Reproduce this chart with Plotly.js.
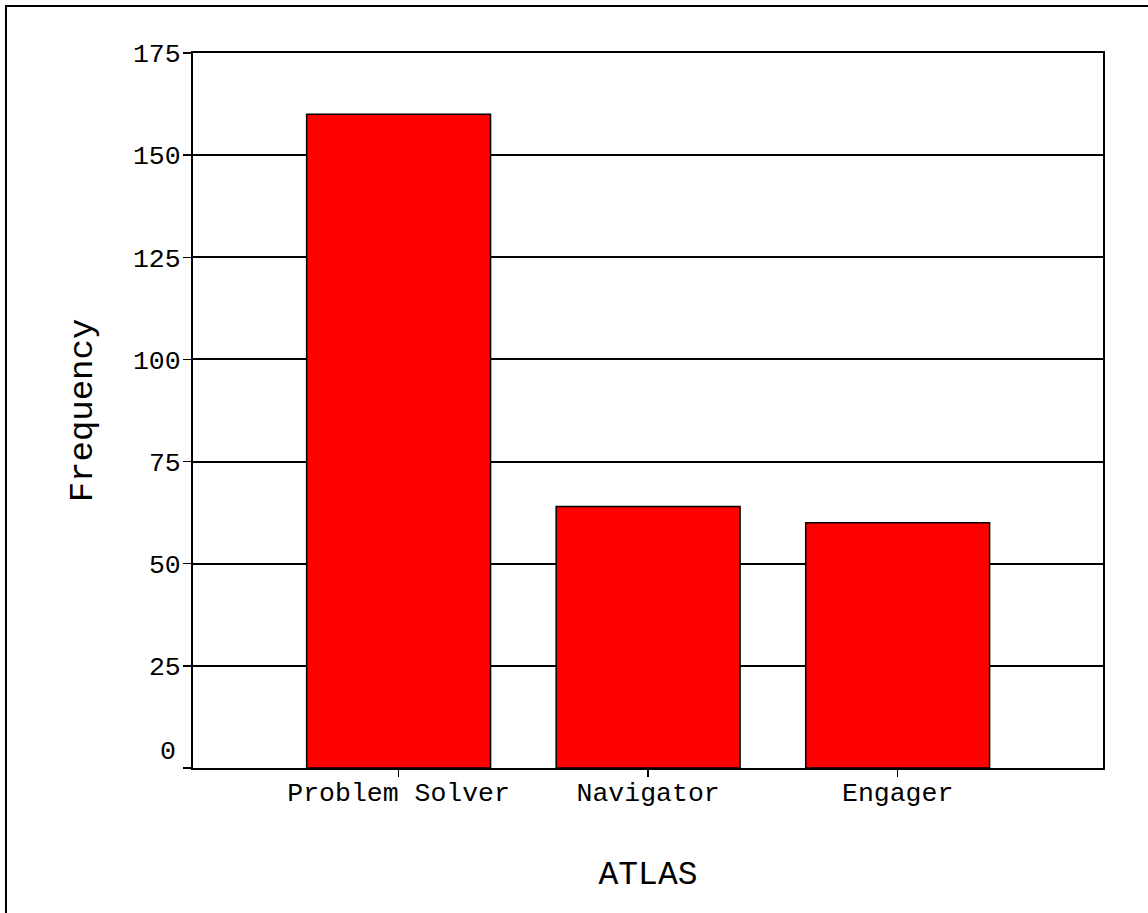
<!DOCTYPE html>
<html>
<head>
<meta charset="utf-8">
<script src="https://cdn.plot.ly/plotly-3.0.1.min.js"></script>
<style>
  html, body { margin: 0; padding: 0; background: #fff; }
  #wrap { position: relative; width: 1148px; height: 913px; }
  #chart { width: 1148px; height: 913px; }
  #frame { position: absolute; left: 5px; top: 5px; width: 1200px; height: 1000px;
           border-top: 2px solid #000; border-left: 2px solid #000; pointer-events: none; }
</style>
</head>
<body>
<div id="wrap">
  <div id="chart"></div>
  <div id="frame"></div>
</div>
<script>
const categories = ["Problem Solver", "Navigator", "Engager"];
const frequency = [160, 64, 60];
const yTickVals = [0, 25, 50, 75, 100, 125, 150, 175];
const yTickText = ["", "25", "50", "75", "100", "125", "150", "175"];

const FONT = '"Courier New", "Liberation Mono", monospace';

const trace = {
  type: 'bar',
  x: categories,
  y: frequency,
  width: 0.737,
  marker: { color: '#ff0000', line: { color: '#000000', width: 1.5 } },
  hoverinfo: 'none'
};

const layout = {
  width: 1148,
  height: 913,
  margin: { l: 193, r: 45, t: 53, b: 145, pad: 0 },
  paper_bgcolor: '#ffffff',
  plot_bgcolor: '#ffffff',
  showlegend: false,
  font: { family: FONT, color: '#000000' },
  xaxis: {
    type: 'category',
    range: [-0.824, 2.823],
    showgrid: false,
    zeroline: false,
    showline: true,
    linecolor: '#000000',
    linewidth: 2,
    mirror: true,
    ticks: 'outside',
    ticklen: 7,
    tickwidth: 1.5,
    tickcolor: '#000000',
    ticklabelstandoff: -8,
    tickfont: { family: FONT, size: 26.5, color: '#000000' },
    title: { text: 'ATLAS', font: { family: FONT, size: 33, color: '#000000' }, standoff: 53 }
  },
  yaxis: {
    range: [0, 175],
    tickvals: yTickVals,
    ticktext: yTickText,
    showgrid: true,
    gridcolor: '#000000',
    gridwidth: 2,
    zeroline: false,
    showline: true,
    linecolor: '#000000',
    linewidth: 2,
    mirror: true,
    ticks: 'outside',
    ticklen: 8,
    tickwidth: 1.5,
    tickcolor: '#000000',
    ticklabelstandoff: -3,
    tickfont: { family: FONT, size: 26.5, color: '#000000' },
    title: { text: 'Frequency', font: { family: FONT, size: 34, color: '#000000' }, standoff: 30 }
  },
  annotations: [{
    xref: 'paper', yref: 'y',
    x: 0, y: 0,
    text: '0',
    showarrow: false,
    xanchor: 'right', yanchor: 'bottom',
    xshift: -15, yshift: -1,
    font: { family: FONT, size: 26.5, color: '#000000' }
  }]
};

Plotly.newPlot('chart', [trace], layout, { displayModeBar: false, staticPlot: true });
</script>
</body>
</html>
